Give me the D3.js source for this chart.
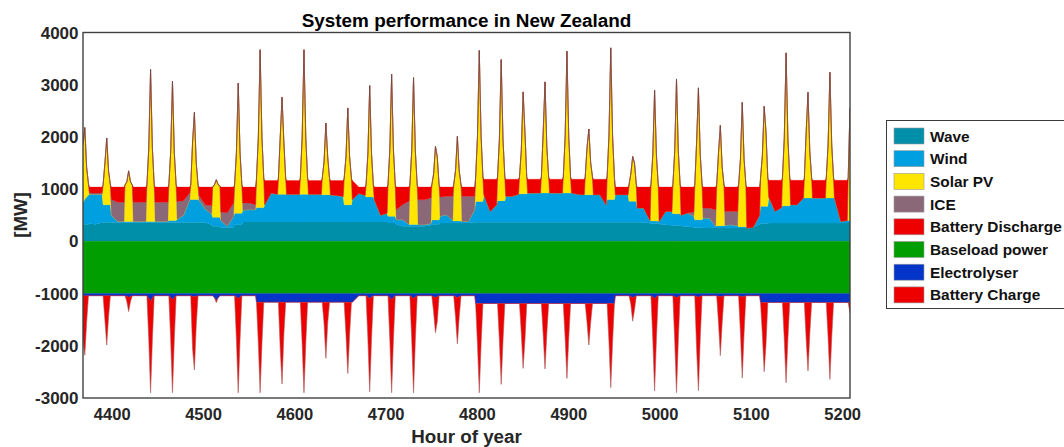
<!DOCTYPE html>
<html><head><meta charset="utf-8">
<script src="https://cdn.jsdelivr.net/npm/d3@7"></script>
<style>
html,body{margin:0;padding:0;background:#fff;}
svg{display:block;font-family:"Liberation Sans",Arial,Helvetica,sans-serif;}
</style></head><body>
<svg id="chart" width="1064" height="447"></svg>
<script>
// ---- Data (MW), one row per day: [p-12, p-5, p-4, p-2, p, p+2, p+4, p+5] around the solar peak hour p ----
const hours = [
[4368,4370,4372,4374,4375],
[4382,4389,4390,4392,4394,4396,4398,4399],
[4406,4413,4414,4416,4418,4420,4422,4423],
[4430,4437,4438,4440,4442,4444,4446,4447],
[4454,4461,4462,4464,4466,4468,4470,4471],
[4478,4485,4486,4488,4490,4492,4494,4495],
[4502,4509,4510,4512,4514,4516,4518,4519],
[4526,4533,4534,4536,4538,4540,4542,4543],
[4550,4557,4558,4560,4562,4564,4566,4567],
[4574,4581,4582,4584,4586,4588,4590,4591],
[4598,4605,4606,4608,4610,4612,4614,4615],
[4622,4629,4630,4632,4634,4636,4638,4639],
[4646,4653,4654,4656,4658,4660,4662,4663],
[4670,4677,4678,4680,4682,4684,4686,4687],
[4694,4701,4702,4704,4706,4708,4710,4711],
[4718,4725,4726,4728,4730,4732,4734,4735],
[4742,4749,4750,4752,4754,4756,4758,4759],
[4766,4773,4774,4776,4778,4780,4782,4783],
[4790,4797,4798,4800,4802,4804,4806,4807],
[4814,4821,4822,4824,4826,4828,4830,4831],
[4838,4845,4846,4848,4850,4852,4854,4855],
[4862,4869,4870,4872,4874,4876,4878,4879],
[4886,4893,4894,4896,4898,4900,4902,4903],
[4910,4917,4918,4920,4922,4924,4926,4927],
[4934,4941,4942,4944,4946,4948,4950,4951],
[4958,4965,4966,4968,4970,4972,4974,4975],
[4982,4989,4990,4992,4994,4996,4998,4999],
[5006,5013,5014,5016,5018,5020,5022,5023],
[5030,5037,5038,5040,5042,5044,5046,5047],
[5054,5061,5062,5064,5066,5068,5070,5071],
[5078,5085,5086,5088,5090,5092,5094,5095],
[5102,5109,5110,5112,5114,5116,5118,5119],
[5126,5133,5134,5136,5138,5140,5142,5143],
[5150,5157,5158,5160,5162,5164,5166,5167],
[5174,5181,5182,5184,5186,5188,5190,5191],
[5198,5205,5206,5208]
];
const wave = [
[330,330,330,330,335],
[330,360,360,360,360,360,360,360],
[360,360,360,360,360,360,360,360],
[360,360,360,360,360,360,360,360],
[360,360,360,360,360,360,360,360],
[360,360,360,360,360,360,360,360],
[360,320,290,290,290,290,290,260],
[260,270,320,320,320,320,320,370],
[370,370,370,370,370,370,370,370],
[370,370,370,370,370,370,370,370],
[370,370,370,370,370,370,370,370],
[370,370,370,370,370,370,370,370],
[370,370,370,370,370,370,370,370],
[370,370,370,370,370,370,370,370],
[370,370,350,350,350,350,350,330],
[290,290,290,290,290,290,290,290],
[290,310,330,330,330,330,330,350],
[350,350,350,350,350,350,350,350],
[350,365,365,365,365,365,365,365],
[365,365,365,365,365,365,365,365],
[365,365,365,365,365,365,365,365],
[365,365,365,365,365,365,365,365],
[365,365,365,365,365,365,365,365],
[365,365,365,365,365,365,365,365],
[365,365,365,365,365,365,365,365],
[365,365,365,365,365,365,365,365],
[359,348,340,340,340,340,340,333],
[320,309,300,300,300,300,300,293],
[280,270,263,263,263,263,263,256],
[255,255,255,255,255,255,255,255],
[255,255,255,255,255,255,255,255],
[270,330,340,340,340,340,340,350],
[350,350,350,350,350,350,350,350],
[350,350,350,350,350,350,350,350],
[350,350,350,350,350,350,350,350],
[350,350,350,350]
];
const wind = [
[405,480,520,560,565],
[570,540,340,340,340,340,340,140],
[20,20,20,20,20,20,20,20],
[20,20,20,20,20,20,20,20],
[20,20,40,40,40,40,40,60],
[140,440,440,440,440,440,440,430],
[260,200,170,170,170,170,170,140],
[30,210,220,220,220,220,220,230],
[236,236,280,280,280,280,280,330],
[556,530,530,530,530,530,530,530],
[530,530,530,530,530,530,530,530],
[530,530,525,525,525,525,525,520],
[510,490,330,330,330,330,330,430],
[550,510,480,480,480,480,480,430],
[130,170,130,130,130,130,130,84],
[124,40,35,35,35,35,35,28],
[28,30,80,80,80,80,80,130],
[160,50,40,40,40,40,40,32],
[32,235,400,400,400,400,400,529],
[209,337,415,415,415,415,415,497],
[497,535,545,545,545,545,545,561],
[561,561,561,561,561,561,561,561],
[561,561,561,561,561,561,561,561],
[535,529,529,529,529,529,529,529],
[529,335,435,435,435,435,435,529],
[529,529,405,405,405,405,405,273],
[279,52,50,50,50,50,50,49],
[254,265,230,230,230,230,230,207],
[262,210,150,150,150,150,150,190],
[191,31,45,45,45,45,45,55],
[63,45,25,25,25,25,25,0],
[0,170,330,330,330,330,330,500],
[224,300,330,330,330,330,330,352],
[352,480,480,480,480,480,480,480],
[480,480,480,480,480,480,480,480],
[32,50,50,50]
];
const solarPV = [
[1115,1370,566,210,0],
[0,0,380,800,1280,650,380,0],
[0,0,700,762,970,762,700,0],
[0,0,700,1402,2910,1402,700,0],
[0,0,680,1310,2670,1310,680,0],
[0,0,280,1100,1670,712,280,0],
[0,0,580,626,720,626,600,0],
[0,0,540,1157,2490,1157,540,0],
[0,0,555,1342,3020,1342,555,0],
[0,0,305,1100,1860,1000,305,0],
[0,0,305,1092,2770,1092,305,0],
[0,0,310,634,1372,725,310,0],
[0,0,505,924,1855,924,505,0],
[0,0,230,831,2133,831,230,0],
[0,0,600,1273,2720,1273,600,0],
[0,0,755,1407,2811,1407,755,0],
[0,0,670,887,1408,1210,670,0],
[0,0,690,970,1620,970,690,0],
[0,0,465,1238,2890,1238,465,0],
[0,0,450,1166,2702,1166,450,0],
[0,0,320,832,1952,1190,320,0],
[0,0,304,1174,2128,879,304,0],
[0,0,304,1074,2714,1073,304,0],
[0,0,336,906,1258,613,336,0],
[0,0,430,1220,2906,1220,430,0],
[0,0,310,530,856,730,310,0],
[0,0,690,1262,2504,1262,690,0],
[0,0,550,1193,2580,1193,550,0],
[0,0,667,1487,2527,1254,667,0],
[0,0,780,1400,1921,1130,780,0],
[0,0,800,1296,2383,1296,800,0],
[0,0,540,967,1916,1430,540,0],
[0,0,530,1295,2930,1295,530,0],
[0,0,380,1270,2025,896,380,0],
[0,0,380,1022,2408,1022,380,0],
[0,0,810,2150]
];
const ice = [
[0,0,0,0,30],
[20,30,0,0,0,0,0,300],
[367,367,0,0,0,0,0,367],
[367,367,0,0,0,0,0,367],
[367,367,0,0,0,0,0,340],
[280,130,0,0,0,0,0,90],
[80,160,0,0,0,0,0,160],
[260,255,0,0,0,0,0,135],
[129,94,0,0,0,0,0,0],
[0,0,0,0,0,0,0,0],
[0,0,0,0,0,0,0,0],
[0,0,0,0,0,0,0,0],
[0,0,0,0,0,0,0,0],
[0,0,0,0,0,0,0,0],
[0,0,0,0,0,0,0,192],
[286,440,0,0,0,0,0,480],
[480,490,0,0,0,0,0,370],
[352,462,0,0,0,0,0,480],
[480,262,0,0,0,0,0,0],
[0,0,0,0,0,0,0,0],
[0,0,0,0,0,0,0,0],
[0,0,0,0,0,0,0,0],
[0,0,0,0,0,0,0,0],
[0,0,0,0,0,0,0,0],
[0,0,0,0,0,0,0,0],
[0,0,0,0,0,0,0,0],
[0,0,0,0,0,0,0,0],
[0,0,0,0,0,0,0,0],
[0,80,0,0,0,0,0,192],
[192,314,0,0,0,0,0,264],
[256,274,0,0,0,0,0,0],
[0,0,0,0,0,0,0,0],
[0,0,0,0,0,0,0,0],
[0,0,0,0,0,0,0,0],
[0,0,0,0,0,0,0,0],
[0,0,0,0]
];
const batteryDischarge = [
[0,0,0,0,110],
[120,110,0,0,0,0,0,240],
[293,293,0,0,0,0,0,293],
[293,293,0,0,0,0,0,293],
[293,293,0,0,0,0,0,280],
[260,110,0,0,0,0,0,160],
[340,360,0,0,0,0,0,480],
[490,305,0,0,0,0,0,305],
[305,340,0,0,0,0,0,465],
[239,265,0,0,0,0,0,265],
[265,265,0,0,0,0,0,265],
[265,265,0,0,0,0,0,275],
[285,305,0,0,0,0,0,365],
[120,160,0,0,0,0,0,240],
[540,500,0,0,0,0,0,434],
[340,270,0,0,0,0,0,242],
[242,210,0,0,0,0,0,190],
[178,178,0,0,0,0,0,178],
[178,178,0,0,0,0,0,296],
[616,488,0,0,0,0,0,328],
[328,290,0,0,0,0,0,264],
[264,264,0,0,0,0,0,264],
[264,264,0,0,0,0,0,264],
[290,296,0,0,0,0,0,296],
[296,490,0,0,0,0,0,146],
[146,146,0,0,0,0,0,402],
[402,640,0,0,0,0,0,658],
[466,466,0,0,0,0,0,540],
[498,480,0,0,0,0,0,402],
[402,440,0,0,0,0,0,466],
[466,466,0,0,0,0,0,785],
[770,540,0,0,0,0,0,320],
[596,520,0,0,0,0,0,468],
[468,340,0,0,0,0,0,340],
[340,340,0,0,0,0,0,340],
[788,770,0,0]
];
const baseloadPower = 1000; // constant demand drawn below zero
const electrolyser = [
[40,40,40,40,40],
[40,40,40,40,40,40,40,40],
[40,40,40,50,70,50,40,40],
[40,40,40,80,150,80,40,40],
[40,40,40,70,120,70,40,40],
[40,40,40,50,60,50,40,40],
[40,40,40,80,130,80,40,40],
[40,40,40,60,100,60,40,40],
[40,40,165,165,165,165,165,165],
[165,165,165,165,165,165,165,165],
[165,165,165,165,165,165,165,165],
[165,165,165,165,165,165,165,165],
[165,165,165,165,165,165,165,165],
[40,40,40,60,100,60,40,40],
[40,40,40,70,120,70,40,40],
[40,40,40,60,100,60,40,40],
[40,40,40,55,80,55,40,40],
[40,40,40,55,80,55,40,40],
[40,40,190,190,190,190,190,190],
[190,190,190,190,190,190,190,190],
[190,190,190,190,190,190,190,190],
[190,190,190,190,190,190,190,190],
[190,190,190,190,190,190,190,190],
[190,190,190,190,190,190,190,190],
[190,190,190,190,190,190,190,40],
[40,40,40,55,80,55,40,40],
[40,40,40,60,100,60,40,40],
[40,40,40,55,80,55,40,40],
[40,40,40,50,70,50,40,40],
[40,40,40,50,60,50,40,40],
[40,40,40,50,60,50,40,40],
[40,40,170,170,170,170,170,170],
[170,170,170,170,170,170,170,170],
[170,170,170,170,170,170,170,170],
[170,170,170,170,170,170,170,170],
[170,170,170,170]
];
const batteryCharge = [
[850,1140,500,0,0],
[0,0,0,465,945,400,0,0],
[0,0,0,100,275,100,0,0],
[0,0,0,790,1750,790,0,0],
[0,0,0,800,1780,800,0,0],
[0,0,0,1000,1404,560,0,0],
[0,0,0,0,42,0,0,0],
[0,0,0,810,1800,810,0,0],
[0,0,0,780,1735,780,0,0],
[0,0,0,900,1568,600,0,0],
[0,0,0,780,1735,780,0,0],
[0,0,0,400,1075,395,0,0],
[0,0,0,615,1365,615,0,0],
[0,0,0,800,1780,800,0,0],
[0,0,0,800,1780,800,0,0],
[0,0,0,810,1800,810,0,0],
[0,0,0,300,672,480,0,0],
[0,0,0,400,884,400,0,0],
[0,0,0,770,1710,770,0,0],
[0,0,0,700,1549,700,0,0],
[0,0,0,560,1242,700,0,0],
[0,0,0,600,1255,565,0,0],
[0,0,0,650,1434,650,0,0],
[0,0,0,360,795,360,0,0],
[0,0,0,720,1610,720,0,0],
[0,0,0,150,448,250,0,0],
[0,0,0,795,1767,795,0,0],
[0,0,0,820,1820,820,0,0],
[0,0,0,1000,1790,800,0,0],
[0,0,0,510,1128,510,0,0],
[0,0,0,700,1556,700,0,0],
[0,0,0,600,1327,800,0,0],
[0,0,0,690,1538,690,0,0],
[0,0,0,700,1313,590,0,0],
[0,0,0,660,1473,660,0,0],
[0,0,0,200]
];
const seriesLabels = ["Wave","Wind","Solar PV","ICE","Battery Discharge","Baseload power","Electrolyser","Battery Charge"];
const seriesColors = ["#008fa8","#00a0e0","#ffe600","#8b6878","#ee0000","#009e00","#0535c8","#ee0000"];
const yTickValues = [4000,3000,2000,1000,0,-1000,-2000,-3000];
const xTickValues = [4400,4500,4600,4700,4800,4900,5000,5100,5200];

// ---- Build table ----
const H = hours.flat(), Wv = wave.flat(), Wd = wind.flat(), S = solarPV.flat(),
      I = ice.flat(), Dc = batteryDischarge.flat(), E = electrolyser.flat(), C = batteryCharge.flat();
const rows = H.map((h,i)=>({hour:h, wave:Wv[i], wind:Wd[i], solar:S[i], ice:I[i], discharge:Dc[i],
  baseload:baseloadPower, electrolyser:E[i], charge:C[i]}));
const posKeys = ["wave","wind","solar","ice","discharge"];
const negKeys = ["baseload","electrolyser","charge"];
const posStack = d3.stack().keys(posKeys)(rows);
const negStack = d3.stack().keys(negKeys)(rows);

const svg = d3.select("#chart");
const L = 83, R = 850, T = 32.5, B = 398;
const x = d3.scaleLinear().domain([4368,5208]).range([L,R]);
const y = d3.scaleLinear().domain([-3000,4000]).range([B,T]);

svg.append("defs").append("clipPath").attr("id","clip")
  .append("rect").attr("x",L).attr("y",T).attr("width",R-L).attr("height",B-T);
const g = svg.append("g").attr("clip-path","url(#clip)");

const areaPos = d3.area().x(d=>x(d.data.hour)).y0(d=>y(d[0])).y1(d=>y(d[1]));
const areaNeg = d3.area().x(d=>x(d.data.hour)).y0(d=>y(-d[0])).y1(d=>y(-d[1]));

posStack.forEach((s,i)=>{
  g.append("path").datum(s).attr("d",areaPos).attr("fill",seriesColors[i])
   .attr("stroke",seriesColors[i]).attr("stroke-width",0.3);
});
negStack.forEach((s,i)=>{
  g.append("path").datum(s).attr("d",areaNeg).attr("fill",seriesColors[5+i])
   .attr("stroke",seriesColors[5+i]).attr("stroke-width",0.3);
});

// outline of solar spikes and charge spikes
const n = rows.length;
const near = (arr,i)=> arr[i]>0 || (i>0 && arr[i-1]>0) || (i<n-1 && arr[i+1]>0);
const topLayer = posStack[posStack.length-1];
g.append("path").datum(topLayer)
  .attr("d", d3.line().defined((d,i)=>near(S,i)).x(d=>x(d.data.hour)).y(d=>y(d[1])))
  .attr("fill","none").attr("stroke","#555").attr("stroke-width",0.7).attr("stroke-opacity",0.85);
const chargeLayer = negStack[negStack.length-1];
g.append("path").datum(chargeLayer)
  .attr("d", d3.line().defined((d,i)=>near(C,i)).x(d=>x(d.data.hour)).y(d=>y(-d[1])))
  .attr("fill","none").attr("stroke","#808080").attr("stroke-width",0.6).attr("stroke-opacity",0.6);

// frame
svg.append("rect").attr("x",L).attr("y",T).attr("width",R-L).attr("height",B-T)
  .attr("fill","none").attr("stroke","#404040").attr("stroke-width",1.4);

// axes labels
svg.append("g").selectAll("text").data(yTickValues).join("text")
  .attr("x",78.5).attr("y",d=>y(d)).attr("dy","0.36em").attr("text-anchor","end")
  .attr("font-size","17px").attr("font-weight","bold").attr("fill","#262626").text(d=>d);
svg.append("g").selectAll("text").data(xTickValues).join("text")
  .attr("x",d=>x(d)).attr("y",419.5).attr("text-anchor","middle")
  .attr("font-size","16.5px").attr("font-weight","bold").attr("fill","#262626").text(d=>d);

svg.append("text").attr("x",(L+R)/2).attr("y",26.5).attr("text-anchor","middle")
  .attr("font-size","18.9px").attr("font-weight","bold").attr("fill","#000")
  .text("System performance in New Zealand");
svg.append("text").attr("x",(L+R)/2).attr("y",442.5).attr("text-anchor","middle")
  .attr("font-size","18.8px").attr("font-weight","bold").attr("fill","#262626")
  .text("Hour of year");
svg.append("text").attr("transform","translate(26.7,215) rotate(-90)").attr("text-anchor","middle")
  .attr("font-size","18.7px").attr("font-weight","bold").attr("fill","#262626").text("[MW]");

// legend
const lg = svg.append("g");
lg.append("rect").attr("x",886.5).attr("y",120.5).attr("width",200).attr("height",188)
  .attr("fill","#fff").attr("stroke","#3a3a3a").attr("stroke-width",1);
seriesLabels.forEach((lab,i)=>{
  const cy = 136 + i*22.7;
  lg.append("rect").attr("x",894).attr("y",cy-8).attr("width",30).attr("height",16)
    .attr("fill",seriesColors[i]).attr("stroke","#9a9a9a").attr("stroke-width",0.6);
  lg.append("text").attr("x",930).attr("y",cy).attr("dy","0.36em")
    .attr("font-size","15.4px").attr("font-weight","bold").attr("fill","#111").text(lab);
});
</script>
</body></html>
